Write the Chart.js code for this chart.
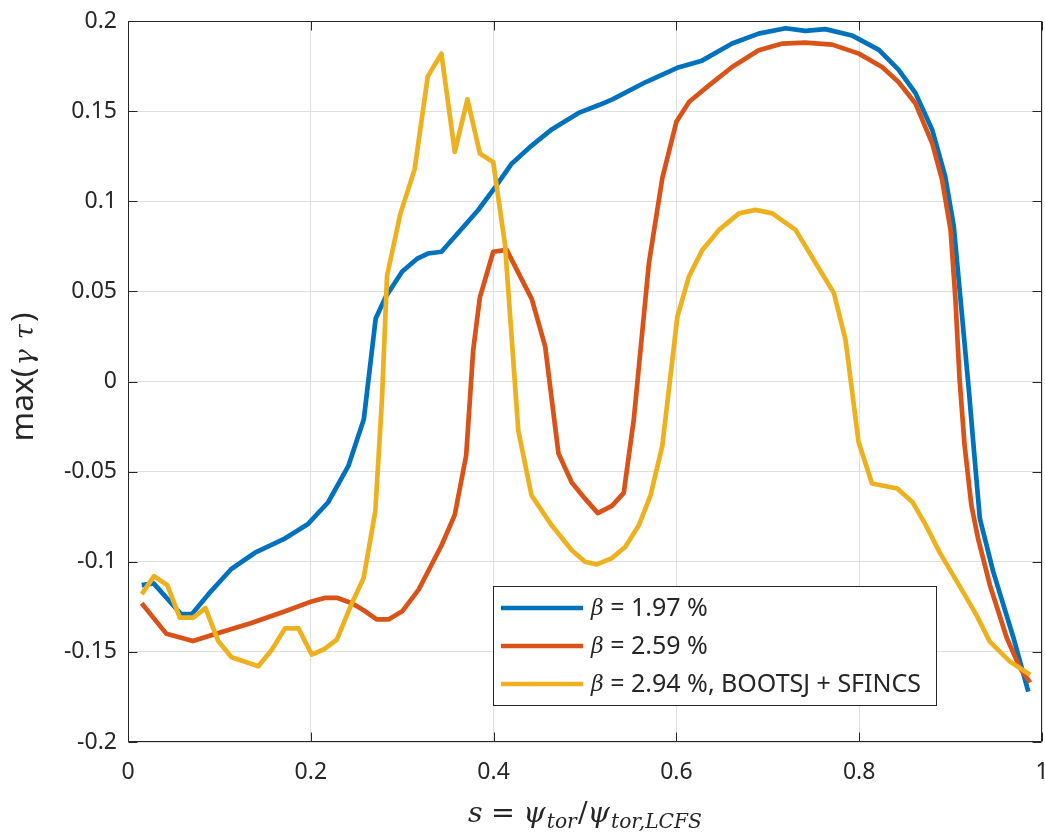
<!DOCTYPE html>
<html>
<head>
<meta charset="utf-8">
<script src="https://cdn.jsdelivr.net/npm/chart.js@4.4.1/dist/chart.umd.min.js"></script>
<style>
  html, body { margin: 0; padding: 0; background: #ffffff; }
  #wrap { width: 1045px; height: 833px; }
</style>
</head>
<body>
<div id="wrap"><canvas id="c" width="1045" height="833"></canvas></div>
<script>
// ---- data ----
const seriesLabels = ['1.97 %', '2.59 %', '2.94 %, BOOTSJ + SFINCS'];

const sBlue = [0.015,0.028,0.058,0.070,0.088,0.113,0.139,0.172,0.197,0.219,0.241,0.258,0.271,0.282,0.300,0.316,0.328,0.343,0.383,0.402,0.420,0.442,0.464,0.493,0.516,0.530,0.566,0.601,0.628,0.661,0.690,0.7195,0.741,0.763,0.792,0.8215,0.843,0.8616,0.880,0.894,0.9035,0.9126,0.920,0.926,0.932,0.9466,0.9687,0.985];
const gBlue = [-0.113,-0.112,-0.129,-0.129,-0.118,-0.104,-0.095,-0.087,-0.079,-0.067,-0.047,-0.021,0.035,0.047,0.061,0.068,0.071,0.072,0.095,0.108,0.121,0.131,0.140,0.149,0.1535,0.1565,0.166,0.174,0.178,0.1875,0.193,0.196,0.1945,0.1955,0.192,0.184,0.173,0.160,0.1395,0.114,0.086,0.036,-0.005,-0.041,-0.076,-0.1055,-0.142,-0.172];

const sRed = [0.015,0.042,0.071,0.099,0.135,0.172,0.201,0.216,0.2285,0.245,0.2596,0.272,0.285,0.300,0.318,0.343,0.3575,0.370,0.3777,0.385,0.3996,0.4143,0.4418,0.4564,0.471,0.4855,0.500,0.514,0.5295,0.5424,0.5534,0.570,0.5846,0.600,0.614,0.636,0.661,0.690,0.716,0.741,0.7705,0.7996,0.825,0.843,0.8616,0.880,0.8907,0.900,0.9053,0.9098,0.9153,0.9227,0.930,0.943,0.9613,0.976,0.987];
const gRed = [-0.123,-0.140,-0.144,-0.1395,-0.134,-0.1275,-0.122,-0.120,-0.120,-0.123,-0.1275,-0.132,-0.132,-0.1275,-0.1155,-0.091,-0.074,-0.041,0.0175,0.0467,0.072,0.073,0.0457,0.0195,-0.040,-0.056,-0.065,-0.073,-0.069,-0.0618,-0.021,0.066,0.1128,0.1441,0.1552,0.1644,0.1745,0.1838,0.1875,0.188,0.1869,0.1819,0.1745,0.1662,0.1542,0.132,0.1118,0.084,0.0454,0.0015,-0.0354,-0.0686,-0.087,-0.113,-0.142,-0.159,-0.167];

const sYel = [0.015,0.0285,0.043,0.0567,0.0713,0.0848,0.0987,0.1133,0.1426,0.1572,0.1718,0.1865,0.2011,0.2139,0.2285,0.245,0.2578,0.2706,0.2779,0.2834,0.298,0.3136,0.328,0.3429,0.3575,0.3714,0.385,0.3996,0.4125,0.427,0.4415,0.4635,0.4855,0.500,0.513,0.5295,0.5442,0.5589,0.5717,0.5846,0.6011,0.6138,0.6284,0.6466,0.6685,0.6867,0.7049,0.7304,0.7523,0.7723,0.785,0.7993,0.814,0.8416,0.8582,0.8729,0.8877,0.9134,0.9282,0.9429,0.965,0.987];
const gYel = [-0.118,-0.108,-0.113,-0.131,-0.131,-0.1257,-0.144,-0.153,-0.158,-0.149,-0.137,-0.137,-0.1515,-0.1487,-0.1432,-0.123,-0.109,-0.072,-0.0096,0.0586,0.093,0.1177,0.1693,0.1819,0.1274,0.1566,0.1265,0.1216,0.0759,-0.0272,-0.0632,-0.0798,-0.0936,-0.100,-0.1015,-0.098,-0.0917,-0.0798,-0.0632,-0.0357,0.036,0.0583,0.073,0.0841,0.0933,0.0952,0.0933,0.0841,0.0657,0.0491,0.0232,-0.0336,-0.0566,-0.0594,-0.0668,-0.0797,-0.0945,-0.1166,-0.1295,-0.1443,-0.1554,-0.1627];

const xTicks = [0, 0.2, 0.4, 0.6, 0.8, 1];
const yTicks = [-0.2, -0.15, -0.1, -0.05, 0, 0.05, 0.1, 0.15, 0.2];

// ---- styles ----
const colors = ['#0072BD', '#D95319', '#EDB120'];
const AX = '#262626';
const SANS = '"Noto Sans", "Open Sans", sans-serif';
const SERIF = '"DejaVu Serif", "Liberation Serif", serif';
const TICK_FS = 23;
const LEG_FS = 25;

function pts(xs, ys) { return xs.map((v, i) => ({ x: v, y: ys[i] })); }
function fmt(v) { const r = Math.round(v * 100) / 100; return String(r); }

const datasets = [
  { label: seriesLabels[0], data: pts(sBlue, gBlue), order: 3 },
  { label: seriesLabels[1], data: pts(sRed, gRed), order: 2 },
  { label: seriesLabels[2], data: pts(sYel, gYel), order: 1 }
].map((d, i) => Object.assign(d, {
  borderColor: colors[i], backgroundColor: colors[i], borderWidth: 4.7,
  pointRadius: 0, pointHoverRadius: 0, tension: 0, fill: false,
  borderJoinStyle: 'round', borderCapStyle: 'butt'
}));

function measureRuns(ctx, runs, k) {
  let total = 0;
  runs.forEach(r => {
    ctx.font = (r.style || '') + ' ' + (r.size * k) + 'px ' + r.family;
    r.w = ctx.measureText(r.text).width;
    total += r.w + (r.gap || 0) * k;
  });
  return total;
}
function drawRuns(ctx, runs, cx, baseline, targetWidth) {
  let k = 1;
  let total = measureRuns(ctx, runs, 1);
  if (targetWidth) { k = targetWidth / total; total = measureRuns(ctx, runs, k); }
  let x = cx - total / 2;
  ctx.textAlign = 'left'; ctx.textBaseline = 'alphabetic';
  runs.forEach(r => {
    ctx.font = (r.style || '') + ' ' + (r.size * k) + 'px ' + r.family;
    ctx.fillText(r.text, x, baseline + (r.dy || 0) * k);
    x += r.w + (r.gap || 0) * k;
  });
}

const matlabPlugin = {
  id: 'matlabLook',
  afterDatasetsDraw(chart) {
    const { ctx, chartArea: a, scales: { x, y } } = chart;
    ctx.save();
    ctx.strokeStyle = AX; ctx.lineWidth = 1;
    const L = Math.round(a.left) + 0.5, R = Math.round(a.right) - 0.5;
    const T = Math.round(a.top) + 0.5, B = Math.round(a.bottom) - 0.5;
    ctx.beginPath();
    ctx.rect(L, T, R - L, B - T);
    const tl = 9;
    xTicks.forEach(v => {
      const px = Math.round(x.getPixelForValue(v)) + 0.5;
      ctx.moveTo(px, B); ctx.lineTo(px, B - tl);
      ctx.moveTo(px, T); ctx.lineTo(px, T + tl);
    });
    yTicks.forEach(v => {
      const py = Math.round(y.getPixelForValue(v)) + 0.5;
      ctx.moveTo(L, py); ctx.lineTo(L + tl, py);
      ctx.moveTo(R, py); ctx.lineTo(R - tl, py);
    });
    ctx.stroke();

    // legend box
    const bx = 493, by = 586, bw = 443, bh = 119;
    ctx.fillStyle = '#ffffff';
    ctx.fillRect(bx, by, bw, bh);
    ctx.strokeStyle = AX; ctx.lineWidth = 1;
    ctx.strokeRect(bx + 0.5, by + 0.5, bw, bh);
    const rows = [608, 646, 684];
    rows.forEach((ry, i) => {
      ctx.strokeStyle = colors[i]; ctx.lineWidth = 4.7;
      ctx.beginPath(); ctx.moveTo(501, ry); ctx.lineTo(583, ry); ctx.stroke();
      ctx.fillStyle = AX; ctx.textAlign = 'left'; ctx.textBaseline = 'middle';
      ctx.font = 'italic ' + (LEG_FS - 3) + 'px ' + SERIF;
      ctx.fillText('β', 591, ry + 1);
      const bwid = ctx.measureText('β').width;
      ctx.font = LEG_FS + 'px ' + SANS;
      ctx.fillText(' = ' + seriesLabels[i], 591 + bwid, ry + 1);
    });
    ctx.restore();
  },
  afterDraw(chart) {
    const { ctx } = chart;
    ctx.save();
    ctx.fillStyle = AX;
    drawRuns(ctx, [
      { text: 's', style: 'italic', size: 24, family: SERIF, gap: 7 },
      { text: '=', style: '', size: 24, family: SERIF, gap: 7 },
      { text: 'ψ', style: 'italic', size: 24, family: SERIF, gap: 1 },
      { text: 'tor', style: 'italic', size: 17, family: SERIF, dy: 5, gap: 1 },
      { text: '/', style: '', size: 24, family: SERIF, gap: 0 },
      { text: 'ψ', style: 'italic', size: 24, family: SERIF, gap: 1 },
      { text: 'tor,LCFS', style: 'italic', size: 17, family: SERIF, dy: 5 }
    ], 585, 822, 234);
    ctx.translate(33, 377);
    ctx.rotate(-Math.PI / 2);
    drawRuns(ctx, [
      { text: 'max(', style: '', size: 26, family: SANS, gap: 2 },
      { text: 'γ', style: 'italic', size: 22, family: SERIF, gap: 8 },
      { text: 'τ', style: 'italic', size: 22, family: SERIF, gap: 2 },
      { text: ')', style: '', size: 26, family: SANS }
    ], 0, 0, 129);
    ctx.restore();
  }
};

new Chart(document.getElementById('c'), {
  type: 'line',
  data: { datasets },
  plugins: [matlabPlugin],
  options: {
    responsive: false,
    animation: false,
    devicePixelRatio: 1,
    layout: { padding: { top: 21, right: 3, left: 0, bottom: 0 } },
    plugins: { legend: { display: false }, tooltip: { enabled: false } },
    events: [],
    scales: {
      x: {
        type: 'linear', min: 0, max: 1,
        afterBuildTicks: (s) => { s.ticks = xTicks.map(v => ({ value: v })); },
        afterFit: (s) => { s.height = 91; s.paddingLeft = 0; s.paddingRight = 0; },
        ticks: { color: AX, font: { family: SANS, size: TICK_FS }, padding: 17, maxRotation: 0, autoSkip: false, callback: (v) => fmt(v) },
        grid: { color: '#dfdfdf', lineWidth: 1, drawTicks: false },
        border: { display: false }
      },
      y: {
        type: 'linear', min: -0.2, max: 0.2,
        afterBuildTicks: (s) => { s.ticks = yTicks.map(v => ({ value: v })); },
        afterFit: (s) => { s.width = 128; s.paddingTop = 0; s.paddingBottom = 0; },
        ticks: { color: AX, font: { family: SANS, size: TICK_FS }, padding: 11, autoSkip: false, callback: (v) => fmt(v) },
        grid: { color: '#dfdfdf', lineWidth: 1, drawTicks: false },
        border: { display: false }
      }
    }
  }
});
</script>
</body>
</html>
